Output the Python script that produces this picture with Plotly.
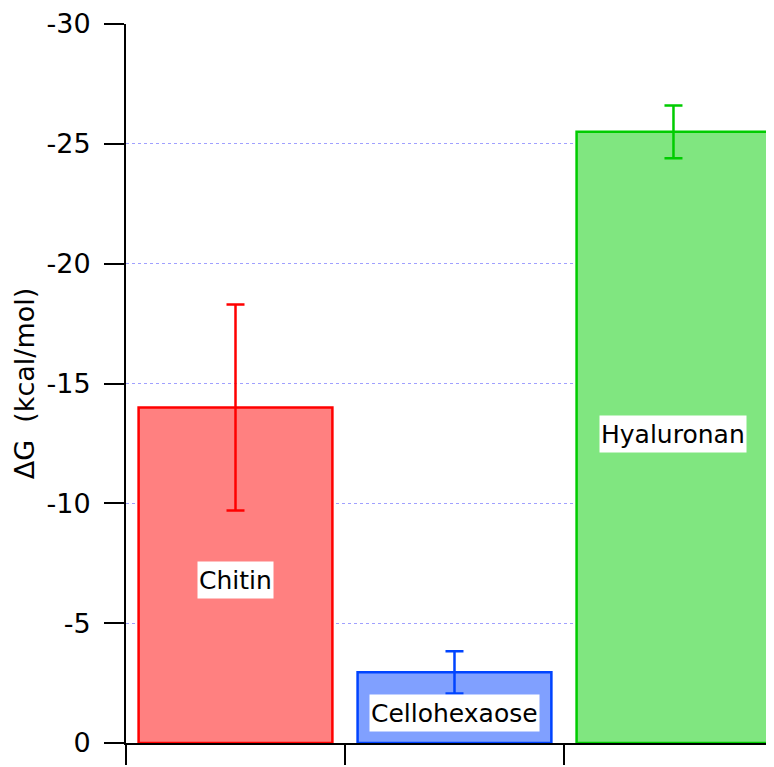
import plotly.graph_objects as go

categories = ["Chitin", "Cellohexaose", "Hyaluronan"]
delta_g = [-14.0, -2.95, -25.5]
errors = [4.3, 0.88, 1.1]
label_y = [-6.8, -1.25, -12.9]
fill_colors = ["#ff8080", "#80a0ff", "#80e680"]
line_colors = ["#ff0000", "#0044ff", "#00cc00"]
y_tick_vals = [0, -5, -10, -15, -20, -25, -30]
y_tick_text = ["0", "-5", "-10", "-15", "-20", "-25", "-30"]
x_boundaries = [-0.5, 0.5, 1.5, 2.5]

FONT = "DejaVu Sans"

fig = go.Figure()
for i, name in enumerate(categories):
    fig.add_trace(go.Bar(
        x=[i], y=[delta_g[i]], name=name, width=0.885,
        marker=dict(color=fill_colors[i], line=dict(color=line_colors[i], width=2.5)),
        error_y=dict(type="data", array=[errors[i]], color=line_colors[i],
                     thickness=2.5, width=9),
        showlegend=False,
    ))
    fig.add_annotation(x=i, y=label_y[i], text=name, showarrow=False,
                       bgcolor="white", borderpad=1, height=34,
                       font=dict(family=FONT, size=25, color="black"))

fig.update_layout(
    width=766, height=759,
    margin=dict(l=118, r=0, t=14, b=24),
    paper_bgcolor="white", plot_bgcolor="white",
    barmode="overlay",
    font=dict(family=FONT, color="black"),
    xaxis=dict(range=[-0.5, 2.459], tickvals=x_boundaries, showticklabels=False,
               ticks="outside", ticklen=20, tickwidth=2, tickcolor="black",
               showline=True, linewidth=2, linecolor="black",
               showgrid=False, zeroline=False),
    yaxis=dict(range=[0, -30], tickvals=y_tick_vals, ticktext=y_tick_text,
               ticks="outside", ticklen=20, tickwidth=2, tickcolor="black",
               tickfont=dict(family=FONT, size=27, color="black"),
               ticklabelstandoff=8, ticklabeloverflow="allow",
               showline=True, linewidth=2, linecolor="black",
               showgrid=True, gridcolor="#a0a0ff", griddash="dot", gridwidth=1,
               zeroline=False,
               title=dict(text="ΔG\u00a0\u00a0(kcal/mol)",
                          font=dict(family=FONT, size=27, color="black"),
                          standoff=4)),
)

fig.write_html("out.html")
